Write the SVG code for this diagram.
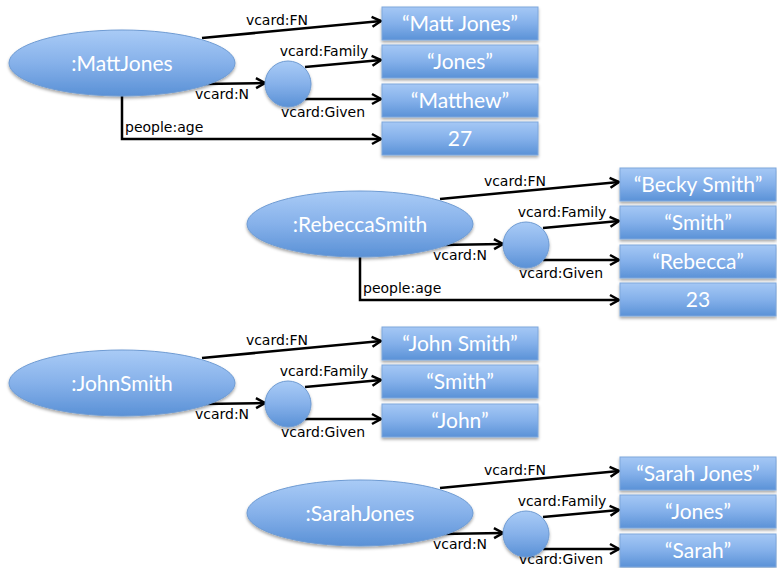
<svg xmlns="http://www.w3.org/2000/svg" width="777" height="568" viewBox="0 0 777 568">
<style>
.lbl{font-family:"DejaVu Sans",sans-serif;font-size:14px;fill:#000}
.nt{font-family:Lato,"Liberation Sans",sans-serif;font-size:21px;fill:#fff;text-anchor:middle}
.edge{fill:none;stroke:#000;stroke-width:2.5;marker-end:url(#arr)}
.ell{fill:url(#gE);stroke:#6e9bd3;stroke-width:1;filter:url(#sh)}
.box{fill:url(#gB);stroke:#7ea7dc;stroke-width:1;filter:url(#sh)}
.mid{text-anchor:middle}
</style>
<defs>
<linearGradient id="gE" x1="0" y1="0" x2="0" y2="1">
<stop offset="0" stop-color="#a9cbf6"/><stop offset="0.5" stop-color="#86b1ea"/><stop offset="1" stop-color="#5a91d6"/>
</linearGradient>
<linearGradient id="gB" x1="0" y1="0" x2="0" y2="1">
<stop offset="0" stop-color="#a5c8f5"/><stop offset="0.5" stop-color="#84b0ea"/><stop offset="1" stop-color="#5b92d7"/>
</linearGradient>
<filter id="sh" x="-10%" y="-20%" width="120%" height="150%">
<feDropShadow dx="0" dy="2" stdDeviation="1.5" flood-color="#000" flood-opacity="0.35"/>
</filter>
<marker id="arr" markerUnits="userSpaceOnUse" markerWidth="14" markerHeight="14" refX="11" refY="7" orient="auto">
<path d="M2,2 L11,7 L2,12" fill="none" stroke="#000" stroke-width="2.5"/>
</marker>
</defs>

<g id="connectors">
<g transform="translate(0,0)">
<path class="edge" d="M202,38 L381,21"/>
<path class="edge" d="M202,84 L265,83"/>
<path class="edge" d="M305,67 L381,60"/>
<path class="edge" d="M305,99 L381,99"/>
<path class="edge" d="M122,95 L122,139 L381,139"/>
<text class="lbl mid" x="277" y="25">vcard:FN</text>
<text class="lbl mid" x="324" y="56">vcard:Family</text>
<text class="lbl mid" x="222" y="99">vcard:N</text>
<text class="lbl mid" x="323" y="117">vcard:Given</text>
<text class="lbl" x="125" y="132">people:age</text>
</g>
<g transform="translate(238,161)">
<path class="edge" d="M202,38 L381,21"/>
<path class="edge" d="M202,84 L265,83"/>
<path class="edge" d="M305,67 L381,60"/>
<path class="edge" d="M305,99 L381,99"/>
<path class="edge" d="M122,95 L122,139 L381,139"/>
<text class="lbl mid" x="277" y="25">vcard:FN</text>
<text class="lbl mid" x="324" y="56">vcard:Family</text>
<text class="lbl mid" x="222" y="99">vcard:N</text>
<text class="lbl mid" x="323" y="117">vcard:Given</text>
<text class="lbl" x="125" y="132">people:age</text>
</g>
<g transform="translate(0,320)">
<path class="edge" d="M202,38 L381,21"/>
<path class="edge" d="M202,84 L265,83"/>
<path class="edge" d="M305,67 L381,60"/>
<path class="edge" d="M305,99 L381,99"/>
<text class="lbl mid" x="277" y="25">vcard:FN</text>
<text class="lbl mid" x="324" y="56">vcard:Family</text>
<text class="lbl mid" x="222" y="99">vcard:N</text>
<text class="lbl mid" x="323" y="117">vcard:Given</text>
</g>
<g transform="translate(238,450)">
<path class="edge" d="M202,38 L381,21"/>
<path class="edge" d="M202,84 L265,83"/>
<path class="edge" d="M305,67 L381,60"/>
<path class="edge" d="M305,99 L381,99"/>
<text class="lbl mid" x="277" y="25">vcard:FN</text>
<text class="lbl mid" x="324" y="56">vcard:Family</text>
<text class="lbl mid" x="222" y="99">vcard:N</text>
<text class="lbl mid" x="323" y="114">vcard:Given</text>
</g>
</g>

<!-- MattJones -->
<g id="MattJones"><ellipse class="ell" cx="122" cy="63" rx="113" ry="33"/><text class="nt" x="122" y="71">:MattJones</text></g>
<g id="MattJones_N"><circle class="ell" cx="288" cy="84" r="23"/></g>
<g id="MattJones_FN"><rect class="box" x="382" y="7" width="156" height="33"/><text class="nt" x="460" y="31">“Matt Jones”</text></g>
<g id="MattJones_Family"><rect class="box" x="382" y="45" width="156" height="33"/><text class="nt" x="460" y="69">“Jones”</text></g>
<g id="MattJones_Given"><rect class="box" x="382" y="84" width="156" height="33"/><text class="nt" x="460" y="108">“Matthew”</text></g>
<g id="MattJones_age"><rect class="box" x="382" y="122" width="156" height="33"/><text class="nt" x="460" y="146">27</text></g>

<!-- RebeccaSmith -->
<g id="RebeccaSmith"><ellipse class="ell" cx="360" cy="224" rx="113" ry="33"/><text class="nt" x="360" y="232">:RebeccaSmith</text></g>
<g id="RebeccaSmith_N"><circle class="ell" cx="526" cy="245" r="23"/></g>
<g id="RebeccaSmith_FN"><rect class="box" x="620" y="168" width="156" height="33"/><text class="nt" x="698" y="192">“Becky Smith”</text></g>
<g id="RebeccaSmith_Family"><rect class="box" x="620" y="206" width="156" height="33"/><text class="nt" x="698" y="230">“Smith”</text></g>
<g id="RebeccaSmith_Given"><rect class="box" x="620" y="245" width="156" height="33"/><text class="nt" x="698" y="269">“Rebecca”</text></g>
<g id="RebeccaSmith_age"><rect class="box" x="620" y="283" width="156" height="33"/><text class="nt" x="698" y="307">23</text></g>

<!-- JohnSmith -->
<g id="JohnSmith"><ellipse class="ell" cx="122" cy="383" rx="113" ry="33"/><text class="nt" x="122" y="391">:JohnSmith</text></g>
<g id="JohnSmith_N"><circle class="ell" cx="288" cy="404" r="23"/></g>
<g id="JohnSmith_FN"><rect class="box" x="382" y="327" width="156" height="33"/><text class="nt" x="460" y="351">“John Smith”</text></g>
<g id="JohnSmith_Family"><rect class="box" x="382" y="365" width="156" height="33"/><text class="nt" x="460" y="389">“Smith”</text></g>
<g id="JohnSmith_Given"><rect class="box" x="382" y="404" width="156" height="33"/><text class="nt" x="460" y="428">“John”</text></g>

<!-- SarahJones -->
<g id="SarahJones"><ellipse class="ell" cx="360" cy="513" rx="113" ry="33"/><text class="nt" x="360" y="521">:SarahJones</text></g>
<g id="SarahJones_N"><circle class="ell" cx="526" cy="534" r="23"/></g>
<g id="SarahJones_FN"><rect class="box" x="620" y="457" width="156" height="33"/><text class="nt" x="698" y="481">“Sarah Jones”</text></g>
<g id="SarahJones_Family"><rect class="box" x="620" y="495" width="156" height="33"/><text class="nt" x="698" y="519">“Jones”</text></g>
<g id="SarahJones_Given"><rect class="box" x="620" y="534" width="156" height="33"/><text class="nt" x="698" y="558">“Sarah”</text></g>
</svg>
